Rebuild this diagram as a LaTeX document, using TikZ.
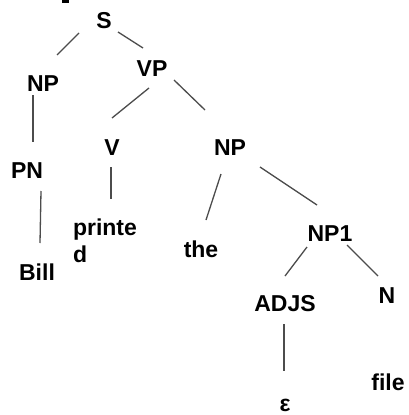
\documentclass[tikz,border=0pt]{standalone}
\usepackage{fontspec}
\setmainfont{Liberation Sans}
\usetikzlibrary{calc}
\begin{document}
\begin{tikzpicture}[x=1pt,y=-1pt,
  lbl/.style={inner sep=0pt,outer sep=0pt,anchor=base,text height=15pt,text depth=0pt,
    font=\fontsize{23}{27}\selectfont\bfseries},
  edge/.style={draw=black!70,line width=1.3pt}]
\fill[white] (0,0) rectangle (409,415);
\useasboundingbox (0,0) rectangle (409,415);
\fill[black] (62,0) rectangle (69,2.5);
% nodes (placed at baselines)
\node[lbl] (S) at (104,28) {S};
\node[lbl] (NPa) at (43,91) {NP};
\node[lbl] (VP) at (152,76) {VP};
\node[lbl] (PN) at (27,178) {PN};
\node[lbl] (V) at (112,155) {V};
\node[lbl] (NPb) at (230,155) {NP};
\node[lbl] (Bill) at (37,280) {Bill};
\node[inner sep=0pt,outer sep=0pt,anchor=north west,align=left,
  font=\fontsize{23}{27}\selectfont\bfseries] (printed) at (73,219) {printe\\d};
\node[lbl] (the) at (201,257) {the};
\node[lbl] (NP1) at (330,241) {NP1};
\node[lbl] (ADJS) at (285,311) {ADJS};
\node[lbl] (N) at (387,303) {N};
\node[lbl] (file) at (388,390) {file};
\node[lbl] (eps) at (285,411.5) {ε};
% connectors
\draw[edge] ($(S)+(-25,12.5)$) -- ($(NPa)+(14,-28.5)$);
\draw[edge] ($(S)+(14,11.5)$) -- ($(VP)+(-9,-20.5)$);
\draw[edge] ($(NPa)+(-10,11.5)$) -- ($(PN)+(6,-28.5)$);
\draw[edge] ($(VP)+(-3,19.5)$) -- ($(V)+(0,-29.5)$);
\draw[edge] ($(VP)+(22,11.5)$) -- ($(NPb)+(-25,-37.5)$);
\draw[edge] ($(PN)+(14,20.5)$) -- ($(Bill)+(3,-29.5)$);
\draw[edge] ($(V)+(-1,19.5)$) -- ($(printed.north west)+(38,-20)$);
\draw[edge] ($(NPb)+(-9,26.5)$) -- ($(the)+(5,-29.5)$);
\draw[edge] ($(NPb)+(30,19.5)$) -- ($(NP1)+(-13,-28.5)$);
\draw[edge] ($(NP1)+(-23,13.5)$) -- ($(ADJS)+(0,-27.5)$);
\draw[edge] ($(NP1)+(17,11.5)$) -- ($(N)+(-9,-19.5)$);
\draw[edge] ($(ADJS)+(-1,20.5)$) -- ($(eps)+(-1,-33)$);
\end{tikzpicture}
\end{document}
